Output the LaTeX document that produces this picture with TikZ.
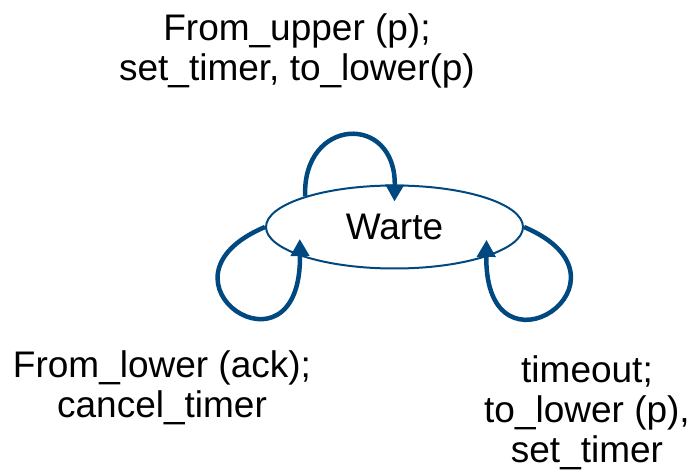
\documentclass[tikz,border=0pt]{standalone}
\usepackage{fontspec}
\setmainfont{Liberation Sans}
\usetikzlibrary{arrows.meta,calc,shapes.geometric}
\definecolor{stateblue}{RGB}{0,72,128}
\begin{document}
\begin{tikzpicture}[x=1pt,y=-1pt,
  lbl/.style={font=\fontsize{37}{40}\selectfont, align=center, inner sep=0pt, anchor=north},
  state/.style={ellipse, draw=stateblue, line width=2pt, minimum width=257pt,
    minimum height=83pt, inner sep=0pt, font=\fontsize{37}{40}\selectfont},
  trans/.style={draw=stateblue, line width=4.5pt, -{Triangle[length=17pt,width=18pt]}}
]
\useasboundingbox (0,0) rectangle (694,473);

% the single state
\node[state] (w) at (394.5,227) {Warte};

% self transitions
\draw[trans] (w.161.8) .. controls +(-3,-79) and +(1.5,-89) .. ($(w.north)+(0,17)$);
\draw[trans] (w.west) .. controls +(-125,53) and +(2,150) .. ($(w.197.9)+(0,-17)$);
\draw[trans] (w.east) .. controls +(125,53) and +(-2,150) .. ($(w.342.1)+(0,-17)$);

% transition labels
\node[lbl] (top) at (297,13.6) {From\_upper (p);\\set\_timer, to\_lower(p)};
\node[lbl] (bl) at (162,350) {From\_lower (ack);\\cancel\_timer};
\node[lbl] (br) at (587,355.5) {timeout;\\to\_lower (p),\\set\_timer};
\end{tikzpicture}
\end{document}
